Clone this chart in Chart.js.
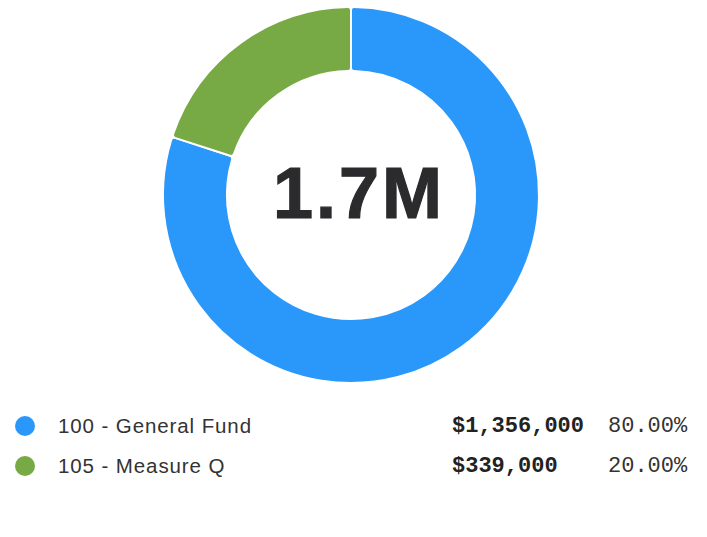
<!DOCTYPE html>
<html><head><meta charset="utf-8">
<script src="https://cdn.jsdelivr.net/npm/chart.js@4"></script>
<style>
body{margin:0;background:#fff;width:707px;height:537px;overflow:hidden;font-family:"Liberation Sans",Arial,sans-serif;}
#wrap{position:absolute;left:0;top:0;width:702px;height:390px;}
#center{position:absolute;left:7px;top:-2px;width:704px;height:390px;display:flex;align-items:center;justify-content:center;font:bold 72px "Liberation Sans",Arial,sans-serif;letter-spacing:3px;color:#2b2b2d;-webkit-text-stroke:1.2px #2b2b2d;pointer-events:none;}
.row{position:absolute;left:0;width:707px;height:30px;}
.dot{position:absolute;left:15px;top:5px;width:20px;height:20px;border-radius:50%;}
.lab{position:absolute;left:58px;top:3px;font-size:20.5px;letter-spacing:0.9px;color:#333;}
.val{position:absolute;left:452px;top:3px;font:bold 22px "Liberation Mono","Courier New",monospace;color:#222;}
.pct{position:absolute;left:608px;top:3px;font:22px "Liberation Mono","Courier New",monospace;color:#333;}
</style></head>
<body>
<div id="wrap"><canvas id="c"></canvas></div>
<div id="center"></div>
<div id="legend"></div>
<script>
const labels = ["100 - General Fund", "105 - Measure Q"];
const values = [1356000, 339000];
const colors = ["#2998FA", "#77A944"];
const centerText = "1.7M";

const total = values.reduce((a,b)=>a+b,0);
document.getElementById('center').textContent = centerText;
new Chart(document.getElementById('c'), {
  type: 'doughnut',
  data: { labels: labels, datasets: [{ data: values, backgroundColor: colors, borderColor: '#fff', borderWidth: 2, borderRadius: 3, hoverOffset: 0 }] },
  options: {
    responsive: true, maintainAspectRatio: false, animation: false,
    cutout: '66%',
    layout: { padding: { top: 6, bottom: 6 } },
    plugins: { legend: { display: false }, tooltip: { enabled: false } }
  }
});
const lg = document.getElementById('legend');
labels.forEach((l,i)=>{
  const r = document.createElement('div'); r.className='row'; r.style.top = (411 + i*40) + 'px';
  const fmt = '$' + values[i].toLocaleString('en-US');
  const pct = (values[i]/total*100).toFixed(2) + '%';
  r.innerHTML = `<div class="dot" style="background:${colors[i]}"></div><div class="lab">${l}</div><div class="val">${fmt}</div><div class="pct">${pct}</div>`;
  lg.appendChild(r);
});
</script>
</body></html>
